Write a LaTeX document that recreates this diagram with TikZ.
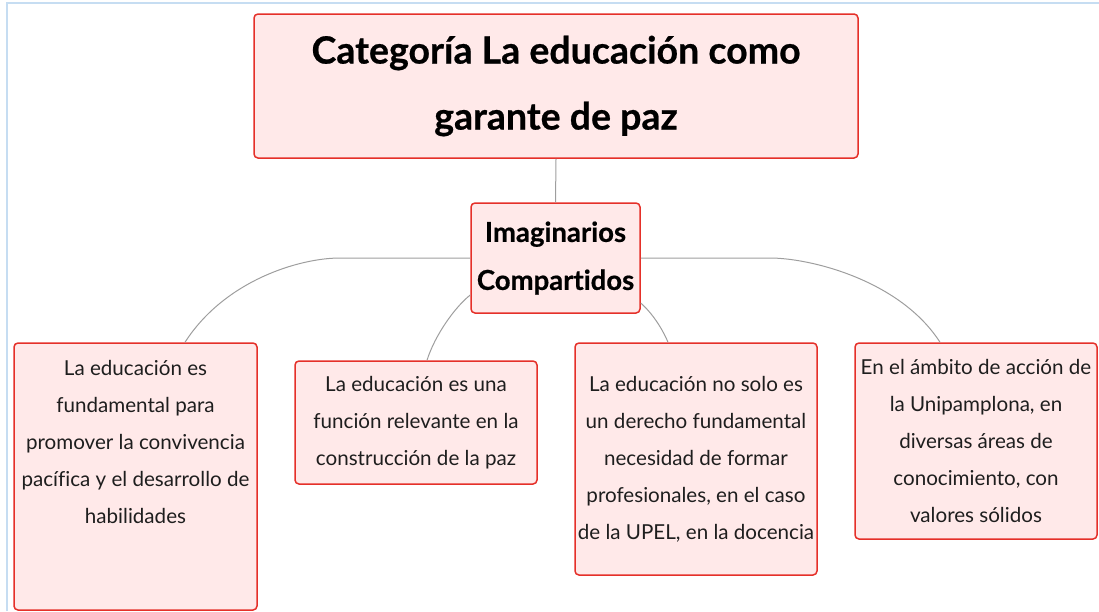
\documentclass[tikz,border=0pt]{standalone}
\usepackage{fontspec}
\setmainfont{Lato}[Ligatures=NoCommon]
\newfontfamily\heavyfont{Lato}[Ligatures=NoCommon, FakeBold=0.6]
\definecolor{boxred}{HTML}{E53029}
\definecolor{boxfill}{HTML}{FFE9E9}
\definecolor{linkgray}{HTML}{9E9E9E}
\definecolor{frameblue}{HTML}{C6DDF2}
\definecolor{txt}{HTML}{1E1E1E}
\begin{document}
\begin{tikzpicture}[x=1pt,y=-1pt,
  box/.style={draw=boxred, fill=boxfill, line width=1.5pt, rounded corners=4pt, inner sep=0pt, align=center, text=txt},
  body/.style={font=\fontsize{20.6}{37}\selectfont, text=txt, align=center, inner sep=0pt},
  link/.style={draw=linkgray, line width=1pt},
  frameline/.style={draw=frameblue, line width=2pt}]
\useasboundingbox (0,0) rectangle (1099,611);
\draw[frameline] (7,611) -- (7,3) -- (1099,3);

\node[box, minimum width=604pt, minimum height=144pt, font=\heavyfont\bfseries\fontsize{37.5}{66}\selectfont, text=black] (top) at (556,86) {Categoría La educación como\\garante de paz};
\node[box, minimum width=169pt, minimum height=110pt, font=\heavyfont\bfseries\fontsize{27.5}{48}\selectfont, text=black] (mid) at (555.5,258) {Imaginarios\\Compartidos};

\node[box, minimum width=243pt, minimum height=267pt] (b1) at (135.5,476.5) {};
\node[body] (b1t) at (135.5,442) {La educación es\\fundamental para\\promover la convivencia\\pacífica y el desarrollo de\\habilidades};
\node[box, body, draw=boxred, fill=boxfill, line width=1.5pt, rounded corners=4pt, minimum width=242pt, minimum height=123pt] (b2) at (416,422.5) {La educación es una\\función relevante en la\\construcción de la paz};
\node[box, body, draw=boxred, fill=boxfill, line width=1.5pt, rounded corners=4pt, minimum width=242pt, minimum height=232pt] (b3) at (696,459) {La educación no solo es\\un derecho fundamental\\necesidad de formar\\profesionales, en el caso\\de la UPEL, en la docencia};
\node[box, body, draw=boxred, fill=boxfill, line width=1.5pt, rounded corners=4pt, minimum width=242pt, minimum height=196pt] (b4) at (976,441) {En el ámbito de acción de\\la Unipamplona, en\\diversas áreas de\\conocimiento, con\\valores sólidos};

\draw[link] (top.south) -- (mid.north);
\draw[link] (mid.west) -- (340,258) .. controls (300,258) and (225,280) .. ([xshift=49.5pt]b1.north);
\draw[link] ([yshift=-37pt]mid.west) .. controls (455,307) and (435,335) .. ([xshift=11pt]b2.north);
\draw[link] ([yshift=-45pt]mid.east) .. controls (652,313) and (662,328) .. ([xshift=-28pt]b3.north);
\draw[link] (mid.east) -- (770,258) .. controls (810,258) and (900,280) .. ([xshift=-36pt]b4.north);
\end{tikzpicture}
\end{document}
